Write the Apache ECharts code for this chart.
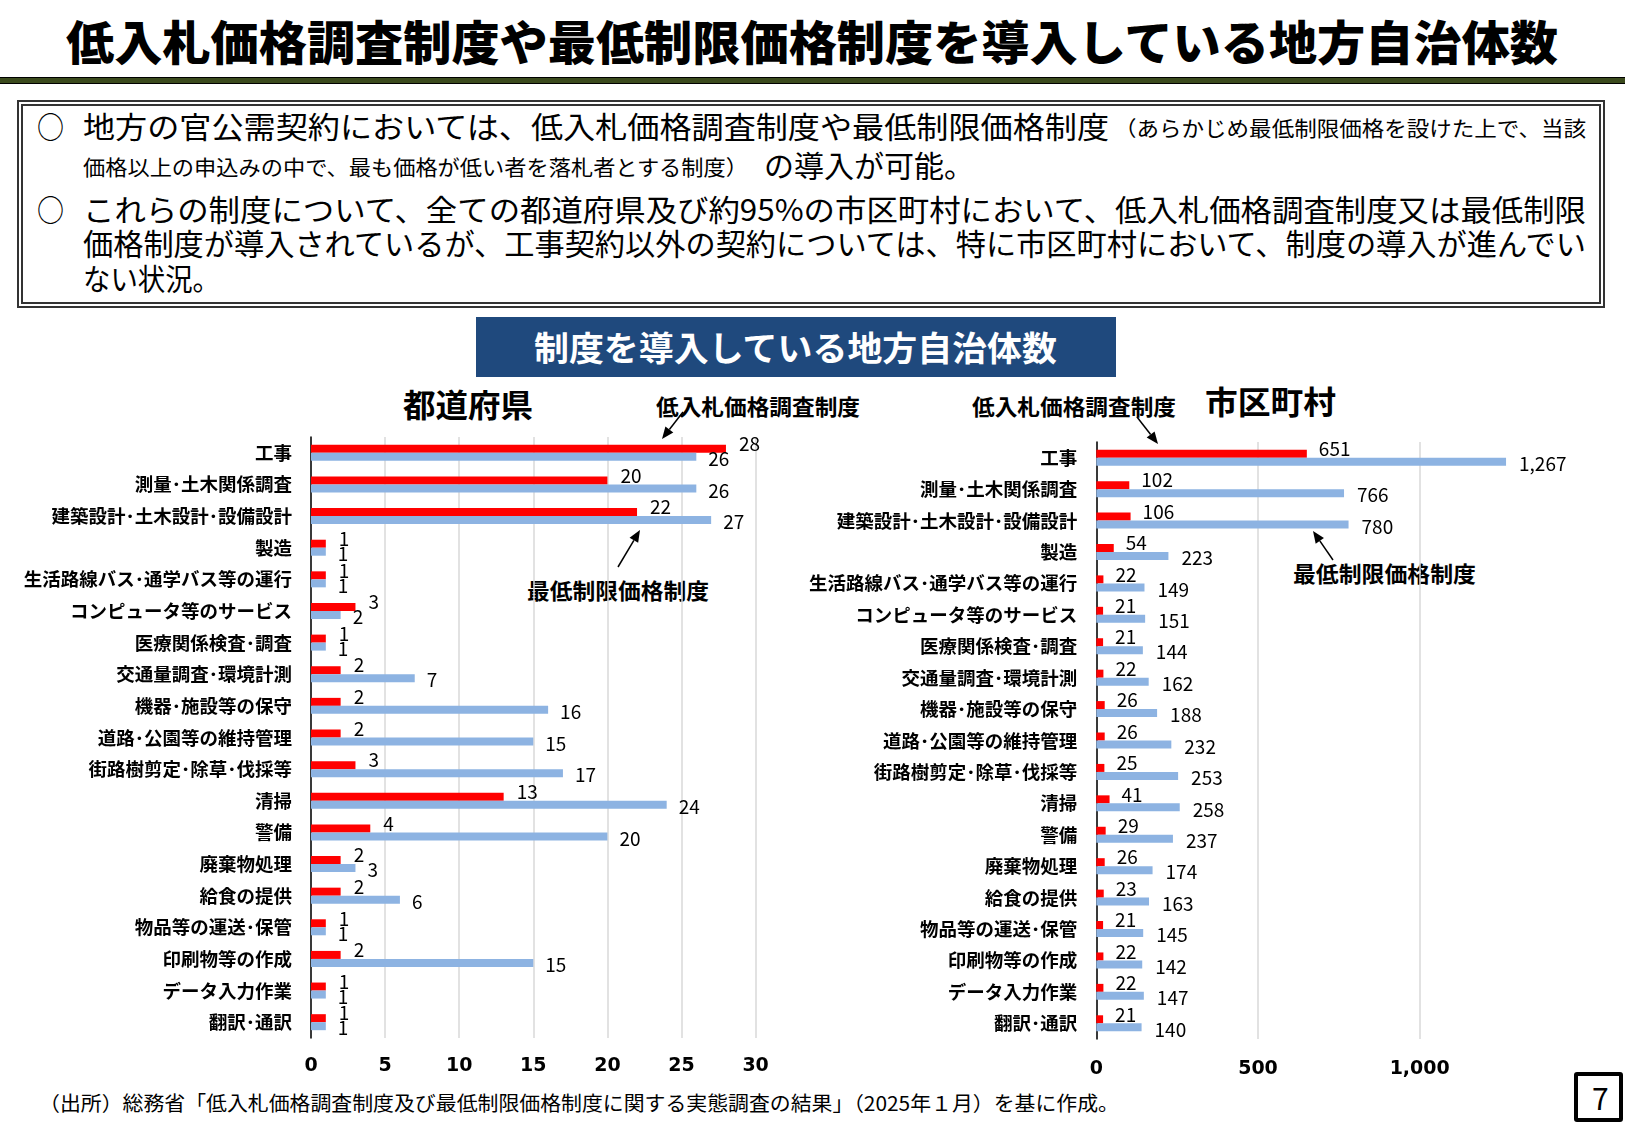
<!DOCTYPE html>
<html><head><meta charset="utf-8">
<script src="https://cdn.jsdelivr.net/npm/echarts@6/dist/echarts.min.js"></script>
<style>
html,body{margin:0;padding:0;background:#fff;width:1625px;height:1125px;overflow:hidden;font-family:"Noto Sans CJK JP",sans-serif;}
.t{position:absolute;white-space:nowrap;line-height:1;transform-origin:0 50%;}
#chart{position:absolute;left:0;top:0;width:1625px;height:1125px;}
</style></head><body>
<div style="position:absolute;left:0;top:77px;width:1625px;height:5px;background:#3b4a1d;border-top:1px solid #000;border-bottom:1px solid #000;"></div>
<div style="position:absolute;left:17px;top:100px;width:1588px;height:208px;box-sizing:border-box;border:6px double #333;"></div>
<div style="position:absolute;left:476px;top:317px;width:640px;height:60px;background:#1f497d;"></div>
<div style="position:absolute;left:1574px;top:1072px;width:49px;height:50px;box-sizing:border-box;border:4px solid #000;border-radius:3px;"></div>
<div id="chart"></div>
<script>
// ---- data ----
const categories = ['工事','測量・土木関係調査','建築設計・土木設計・設備設計','製造','生活路線バス・通学バス等の運行','コンピュータ等のサービス','医療関係検査・調査','交通量調査・環境計測','機器・施設等の保守','道路・公園等の維持管理','街路樹剪定・除草・伐採等','清掃','警備','廃棄物処理','給食の提供','物品等の運送・保管','印刷物等の作成','データ入力作業','翻訳・通訳'];
const prefLowBid   = [28,20,22,1,1,3,1,2,2,2,3,13,4,2,2,1,2,1,1];
const prefMinPrice = [26,26,27,1,1,2,1,7,16,15,17,24,20,3,6,1,15,1,1];
const muniLowBid   = [651,102,106,54,22,21,21,22,26,26,25,41,29,26,23,21,22,22,21];
const muniMinPrice = [1267,766,780,223,149,151,144,162,188,232,253,258,237,174,163,145,142,147,140];
const seriesNames  = ['低入札価格調査制度','最低制限価格制度'];
const prefAxis = {min:0, max:30, interval:5};
const muniAxis = {min:0, max:1500, interval:500};

// ---- text helper ----
function place(text, x, cy, width, size, weight, color){
  const d = document.createElement('div');
  d.className = 't';
  d.textContent = text;
  d.style.fontSize = size + 'px';
  d.style.fontWeight = weight || 'normal';
  d.style.color = color || '#000';
  d.style.left = x + 'px';
  d.style.top = (cy - size/2) + 'px';
  document.body.insertBefore(d, document.getElementById('chart'));
  if (width) {
    const w = d.getBoundingClientRect().width;
    d.style.transform = 'scaleX(' + (width / w) + ')';
  }
  return d;
}
place('低入札価格調査制度や最低制限価格制度を導入している地方自治体数', 66, 39, 1492, 47, '900');
place('○', 37, 125, 27, 30);
place('地方の官公需契約においては、低入札価格調査制度や最低制限価格制度', 83, 125, 1026, 30);
place('（あらかじめ最低制限価格を設けた上で、当該', 1114, 127, 472, 21);
place('価格以上の申込みの中で、最も価格が低い者を落札者とする制度）', 83, 166, 665, 21);
place('の導入が可能。', 764, 164, 210, 30);
place('○', 37, 208, 27, 30);
place('これらの制度について、全ての都道府県及び約95%の市区町村において、低入札価格調査制度又は最低制限', 83, 208, 1503, 30);
place('価格制度が導入されているが、工事契約以外の契約については、特に市区町村において、制度の導入が進んでい', 83, 242, 1503, 30);
place('ない状況。', 83, 277, 137, 30);
place('制度を導入している地方自治体数', 534, 347, 523, 34, 'bold', '#fff');
place('都道府県', 403, 403, 130, 32, 'bold');
place('市区町村', 1205, 400, 131, 32, 'bold');
place('低入札価格調査制度', 656, 405, 204, 22, 'bold');
place('最低制限価格制度', 527, 589, 182, 22, 'bold');
place('低入札価格調査制度', 972, 405, 204, 22, 'bold');
place('最低制限価格制度', 1293, 572, 183, 22, 'bold');
place('（出所）総務省「低入札価格調査制度及び最低制限価格制度に関する実態調査の結果」（2025年１月）を基に作成。', 39, 1103, 1080, 20);
place('7', 1592, 1097, null, 30);

// ---- chart ----
function arrow(x1,y1,x2,y2){
  const a = Math.atan2(y2-y1, x2-x1), L = 12, W = 5;
  const bx = x2 - L*Math.cos(a), by = y2 - L*Math.sin(a);
  const px = -Math.sin(a)*W, py = Math.cos(a)*W;
  return [
    {type:'line', shape:{x1:x1,y1:y1,x2:bx,y2:by}, style:{stroke:'#000', lineWidth:1.5}},
    {type:'polygon', shape:{points:[[x2,y2],[bx+px,by+py],[bx-px,by-py]]}, style:{fill:'#000'}}
  ];
}
const FONT = '"Noto Sans CJK JP", sans-serif';
function valueAxis(idx, ax, fmt, margin){
  return {
    gridIndex: idx, type:'value', min: ax.min, max: ax.max, interval: ax.interval,
    axisLine:{show:false}, axisTick:{show:false},
    splitLine:{show:true, showMaxLine: idx===0, lineStyle:{color:'#d9d9d9', width:1.5}},
    axisLabel:{fontFamily:'DejaVu Sans', fontWeight:'bold', fontSize:19, color:'#000', margin: margin,
      showMaxLabel: idx===0, formatter: fmt}
  };
}
function catAxis(idx){
  return {
    gridIndex: idx, type:'category', data: categories, inverse: true,
    axisTick:{show:false},
    axisLine:{show:true, lineStyle:{color:'#000', width:1.5}},
    axisLabel:{interval:0, fontFamily:FONT, fontWeight:'bold', fontSize:18.5, color:'#000', margin:19,
      formatter: s => s.replace(/・/g, '･')}
  };
}
function barSeries(idx, name, data, color, dist, off){
  return {
    type:'bar', name: name, xAxisIndex: idx, yAxisIndex: idx, data: data,
    barWidth: 8, barGap: '0%',
    itemStyle:{color: color},
    label:{show:true, position:'right', distance: dist, offset: off,
      fontFamily: FONT, fontSize: 19, color:'#000',
      formatter: p => Number(p.value).toLocaleString('en-US')}
  };
}
const chart = echarts.init(document.getElementById('chart'), null, {renderer:'canvas'});
chart.setOption({
  animation:false,
  grid:[{left:311, top:437, width:444.6, height:601},
        {left:1096.3, top:442, width:485.1, height:597}],
  xAxis:[valueAxis(0, prefAxis, v => String(v), 19),
         valueAxis(1, muniAxis, v => Number(v).toLocaleString('en-US'), 21)],
  yAxis:[catAxis(0), catAxis(1)],
  series:[
    barSeries(0, seriesNames[0], prefLowBid, '#ff0000', 13, [0,-5]),
    barSeries(0, seriesNames[1], prefMinPrice, '#8db3e2', 12, [0,2]),
    barSeries(1, seriesNames[0], muniLowBid, '#ff0000', 12, [0,-5]),
    barSeries(1, seriesNames[1], muniMinPrice, '#8db3e2', 13, [0,2])
  ],
  graphic: [].concat(
    arrow(683,412,662,439),
    arrow(618,567,640,530),
    arrow(1137,417,1158,444),
    arrow(1333,560,1313,531)
  )
});
</script>
</body></html>
